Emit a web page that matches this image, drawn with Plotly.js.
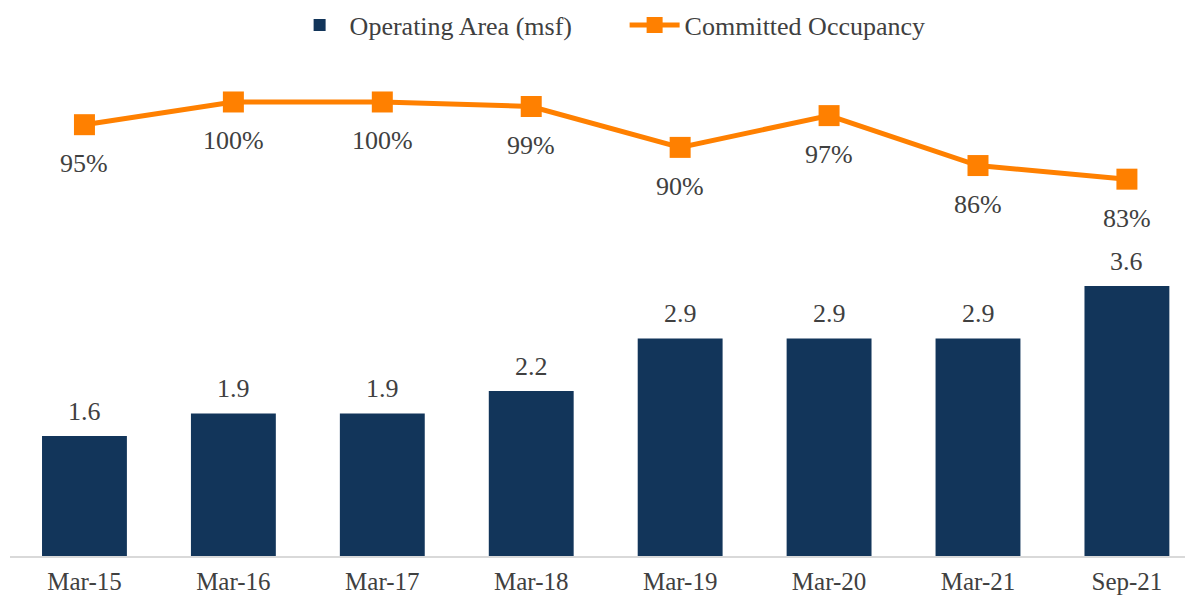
<!DOCTYPE html>
<html>
<head>
<meta charset="utf-8">
<script src="https://cdn.plot.ly/plotly-3.0.1.min.js"></script>
<style>html,body{margin:0;padding:0;background:#fff;}#chart{width:1185px;height:598px;}</style>
</head>
<body>
<div id="chart"></div>
<script>
const categories = ["Mar-15","Mar-16","Mar-17","Mar-18","Mar-19","Mar-20","Mar-21","Sep-21"];
const operatingArea = [1.6, 1.9, 1.9, 2.2, 2.9, 2.9, 2.9, 3.6];
const occupancy = [95, 100, 100, 99, 90, 97, 86, 83];

const FONT = "'Liberation Serif', 'Times New Roman', serif";
const TXT = "#404040";
const FS = 26;

const bars = {
  type: "bar", name: "Operating Area (msf)",
  x: categories, y: operatingArea,
  marker: {color: "#12355A"}, width: 0.57,
  hoverinfo: "x+y"
};
const line = {
  type: "scatter", mode: "lines+markers", name: "Committed Occupancy",
  x: categories, y: occupancy, yaxis: "y2",
  line: {color: "#FF8000", width: 5},
  marker: {symbol: "square", size: 21, color: "#FF8000"},
  cliponaxis: false
};

const annotations = [];
categories.forEach((c, i) => {
  annotations.push({x: c, y: operatingArea[i], xref: "x", yref: "y",
    text: operatingArea[i].toFixed(1), showarrow: false, yshift: 25,
    font: {family: FONT, size: FS, color: TXT}});
  annotations.push({x: c, y: occupancy[i], xref: "x", yref: "y2",
    text: occupancy[i] + "%", showarrow: false, yshift: -39,
    font: {family: FONT, size: FS, color: TXT}});
});

const layout = {
  width: 1185, height: 598,
  margin: {l: 10, r: 0, t: 50, b: 42},
  paper_bgcolor: "#fff", plot_bgcolor: "#fff",
  font: {family: FONT, size: FS, color: TXT},
  showlegend: true,
  legend: {orientation: "h", x: 0.2444, xanchor: "left", xref: "container",
    y: 0.958, yanchor: "middle", yref: "container", entrywidth: 270,
    font: {family: FONT, size: FS, color: TXT}, itemwidth: 50, traceorder: "normal"},
  xaxis: {type: "category", range: [-0.5, 7.39], showline: true, linecolor: "#d9d9d9", linewidth: 2,
    ticks: "", showgrid: false, zeroline: false, tickfont: {family: FONT, size: 25, color: TXT},
    ticklabelstandoff: 2, fixedrange: true, automargin: false},
  yaxis: {range: [0, 6.747], visible: false, showgrid: false, zeroline: false, fixedrange: true},
  yaxis2: {range: [0, 111.45], overlaying: "y", side: "right", visible: false, showgrid: false, zeroline: false, fixedrange: true},
  annotations: annotations
};

Plotly.newPlot("chart", [bars, line], layout, {displayModeBar: false, staticPlot: true});
</script>
</body>
</html>
